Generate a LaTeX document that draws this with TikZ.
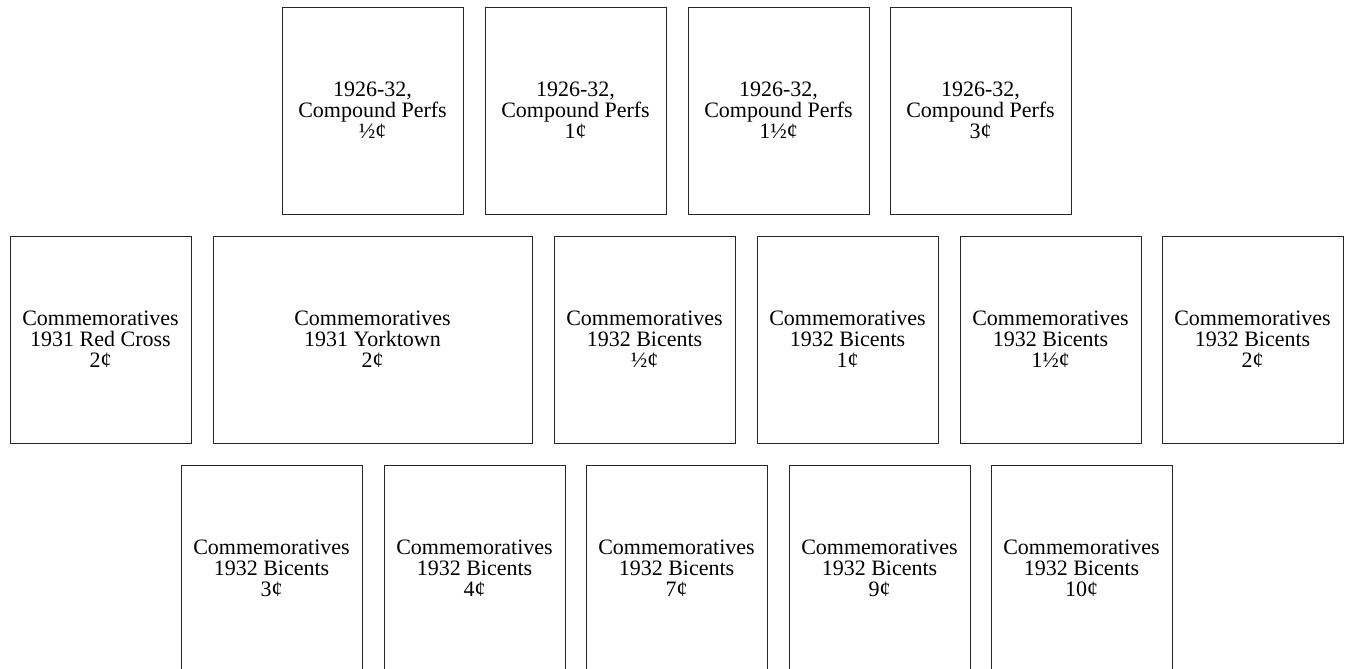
\documentclass[tikz,border=0pt]{standalone}
\usepackage{fontspec}
\setmainfont{Liberation Serif}
\usetikzlibrary{positioning}
\tikzset{
  stamp/.style={draw=black!85,line width=0.9pt,minimum width=181pt,minimum height=207pt,
    inner sep=0pt,align=center,font=\fontsize{22}{21}\selectfont},
  widestamp/.style={stamp,minimum width=319pt}
}
\begin{document}
\begin{tikzpicture}[x=1pt,y=-1pt]
  \useasboundingbox (0,0) rectangle (1350,669);
  % 1926-32 compound perfs
  \node[stamp] (perfA) at (372.5,110.5) {1926-32,\\Compound Perfs\\½¢};
  \node[stamp] (perfB) at (575.5,110.5) {1926-32,\\Compound Perfs\\1¢};
  \node[stamp] (perfC) at (778.5,110.5) {1926-32,\\Compound Perfs\\1½¢};
  \node[stamp] (perfD) at (980.5,110.5) {1926-32,\\Compound Perfs\\3¢};
  % 1931 commemoratives and first bicents
  \node[stamp] (redcross) at (100.5,339.5) {Commemoratives\\1931 Red Cross\\2¢};
  \node[widestamp] (yorktown) at (372.5,339.5) {Commemoratives\\1931 Yorktown\\2¢};
  \node[stamp] (bicA) at (644.5,339.5) {Commemoratives\\1932 Bicents\\½¢};
  \node[stamp] (bicB) at (847.5,339.5) {Commemoratives\\1932 Bicents\\1¢};
  \node[stamp] (bicC) at (1050.5,339.5) {Commemoratives\\1932 Bicents\\1½¢};
  \node[stamp] (bicD) at (1252.5,339.5) {Commemoratives\\1932 Bicents\\2¢};
  % remaining bicents
  \node[stamp] (bicE) at (271.5,568.5) {Commemoratives\\1932 Bicents\\3¢};
  \node[stamp] (bicF) at (474.5,568.5) {Commemoratives\\1932 Bicents\\4¢};
  \node[stamp] (bicG) at (676.5,568.5) {Commemoratives\\1932 Bicents\\7¢};
  \node[stamp] (bicH) at (879.5,568.5) {Commemoratives\\1932 Bicents\\9¢};
  \node[stamp] (bicI) at (1081.5,568.5) {Commemoratives\\1932 Bicents\\10¢};
\end{tikzpicture}
\end{document}
